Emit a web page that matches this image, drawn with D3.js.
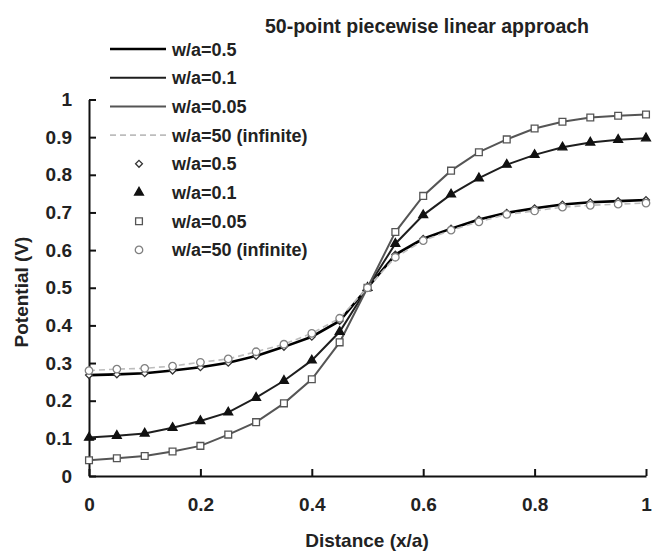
<!DOCTYPE html>
<html>
<head>
<meta charset="utf-8">
<script src="https://cdn.jsdelivr.net/npm/d3@7"></script>
<style>
  body { margin: 0; background: #fff; }
  text { font-family: "Liberation Sans", Arial, sans-serif; font-weight: bold; fill: #222; }
</style>
</head>
<body>
<div id="chart"></div>
<script>
// distance grid (x/a), one entry per marker
const distance = [0, 0.05, 0.1, 0.15, 0.2, 0.25, 0.3, 0.35, 0.4, 0.45, 0.5,
                  0.55, 0.6, 0.65, 0.7, 0.75, 0.8, 0.85, 0.9, 0.95, 1];

// potentials
const wa05   = [0.268, 0.270, 0.273, 0.280, 0.289, 0.301, 0.319, 0.343, 0.370, 0.412, 0.5,
                0.588, 0.630, 0.657, 0.681, 0.699, 0.711, 0.721, 0.727, 0.730, 0.733];
const wa01   = [0.102, 0.107, 0.113, 0.128, 0.146, 0.169, 0.208, 0.253, 0.307, 0.383, 0.5,
                0.617, 0.693, 0.748, 0.791, 0.827, 0.853, 0.873, 0.886, 0.893, 0.897];
const wa005  = [0.042, 0.047, 0.053, 0.065, 0.080, 0.110, 0.143, 0.193, 0.257, 0.355, 0.5,
                0.648, 0.744, 0.811, 0.860, 0.894, 0.923, 0.941, 0.952, 0.957, 0.960];
const wa50   = [0.280, 0.284, 0.286, 0.292, 0.302, 0.311, 0.330, 0.350, 0.379, 0.419, 0.5,
                0.581, 0.625, 0.653, 0.675, 0.695, 0.704, 0.714, 0.719, 0.722, 0.725];

const xTicks = [0, 0.2, 0.4, 0.6, 0.8, 1];
const yTicks = [0, 0.1, 0.2, 0.3, 0.4, 0.5, 0.6, 0.7, 0.8, 0.9, 1];

const diamond = {draw(ctx, size) { const r = Math.sqrt(size) / 2 * 1.25; ctx.moveTo(0, -r); ctx.lineTo(r, 0); ctx.lineTo(0, r); ctx.lineTo(-r, 0); ctx.closePath(); }};

const lineSeries = [
  {label: "w/a=0.5", values: wa05, stroke: "#000", width: 2.6, dash: null},
  {label: "w/a=0.1", values: wa01, stroke: "#1e1e1e", width: 2, dash: null},
  {label: "w/a=0.05", values: wa005, stroke: "#555", width: 2, dash: null},
  {label: "w/a=50 (infinite)", values: wa50, stroke: "#bdbdbd", width: 1.6, dash: "6,4"}
];
const markerSeries = [
  {label: "w/a=0.5", values: wa05, shape: diamond, size: 30, fill: "#fff", stroke: "#333"},
  {label: "w/a=0.1", values: wa01, shape: d3.symbolTriangle, size: 34, fill: "#111", stroke: "#111"},
  {label: "w/a=0.05", values: wa005, shape: d3.symbolSquare, size: 46, fill: "#fff", stroke: "#555"},
  {label: "w/a=50 (infinite)", values: wa50, shape: d3.symbolCircle, size: 44, fill: "#fff", stroke: "#808080"}
];

const width = 666, height = 556;
const margin = {top: 99.5, right: 20, bottom: 80, left: 89};

const svg = d3.select("#chart").append("svg")
  .attr("width", width)
  .attr("height", height);

const x = d3.scaleLinear().domain([0, 1]).range([margin.left, 646]);
const y = d3.scaleLinear().domain([0, 1]).range([476, margin.top]);

// axes, ticks pointing inward
const fmt = d => d === 0 || d === 1 ? d3.format("d")(d) : d3.format(".1f")(d);

svg.append("g")
  .attr("transform", `translate(0,${y(0)})`)
  .call(d3.axisBottom(x).tickValues(xTicks).tickFormat(fmt).tickSizeInner(-7).tickSizeOuter(0).tickPadding(22))
  .call(g => g.selectAll("path, line").attr("stroke", "#111").attr("stroke-width", 2))
  .call(g => g.selectAll("text").attr("font-size", 19).attr("fill", "#222"));

svg.append("g")
  .attr("transform", `translate(${x(0)},0)`)
  .call(d3.axisLeft(y).tickValues(yTicks).tickFormat(fmt).tickSizeInner(-7).tickSizeOuter(0).tickPadding(17))
  .call(g => g.selectAll("path, line").attr("stroke", "#111").attr("stroke-width", 2))
  .call(g => g.selectAll("text").attr("font-size", 19).attr("fill", "#222"));

// axis titles
svg.append("text")
  .attr("x", 367).attr("y", 547)
  .attr("text-anchor", "middle")
  .attr("font-size", 19)
  .text("Distance (x/a)");

svg.append("text")
  .attr("transform", `translate(28,292) rotate(-90)`)
  .attr("text-anchor", "middle")
  .attr("font-size", 19)
  .text("Potential (V)");

svg.append("text")
  .attr("x", 265).attr("y", 33)
  .attr("font-size", 19.5)
  .text("50-point piecewise linear approach");

// lines
const line = vals => d3.line()
  .x((d, i) => x(distance[i]))
  .y(d => y(d))(vals);

svg.append("g")
  .selectAll("path")
  .data(lineSeries)
  .join("path")
    .attr("d", s => line(s.values))
    .attr("fill", "none")
    .attr("stroke", s => s.stroke)
    .attr("stroke-width", s => s.width)
    .attr("stroke-dasharray", s => s.dash);

// markers
markerSeries.forEach(s => {
  svg.append("g")
    .selectAll("path")
    .data(s.values)
    .join("path")
      .attr("transform", (d, i) => `translate(${x(distance[i])},${y(d)})`)
      .attr("d", d3.symbol().type(s.shape).size(s.size))
      .attr("fill", s.fill)
      .attr("stroke", s.stroke)
      .attr("stroke-width", 1.3);
});

// legend
const rowY = i => 49 + i * 28.7;
const legend = svg.append("g");

lineSeries.forEach((s, i) => {
  legend.append("line")
    .attr("x1", 110).attr("x2", 166)
    .attr("y1", rowY(i)).attr("y2", rowY(i))
    .attr("stroke", s.stroke)
    .attr("stroke-width", s.width)
    .attr("stroke-dasharray", s.dash);
  legend.append("text")
    .attr("x", 172).attr("y", rowY(i) + 6.5)
    .attr("font-size", 18)
    .text(s.label);
});

markerSeries.forEach((s, i) => {
  const yy = rowY(i + 4);
  legend.append("path")
    .attr("transform", `translate(139,${yy})`)
    .attr("d", d3.symbol().type(s.shape).size(s.size))
    .attr("fill", s.fill)
    .attr("stroke", s.stroke)
    .attr("stroke-width", 1.3);
  legend.append("text")
    .attr("x", 172).attr("y", yy + 6.5)
    .attr("font-size", 18)
    .text(s.label);
});
</script>
</body>
</html>
